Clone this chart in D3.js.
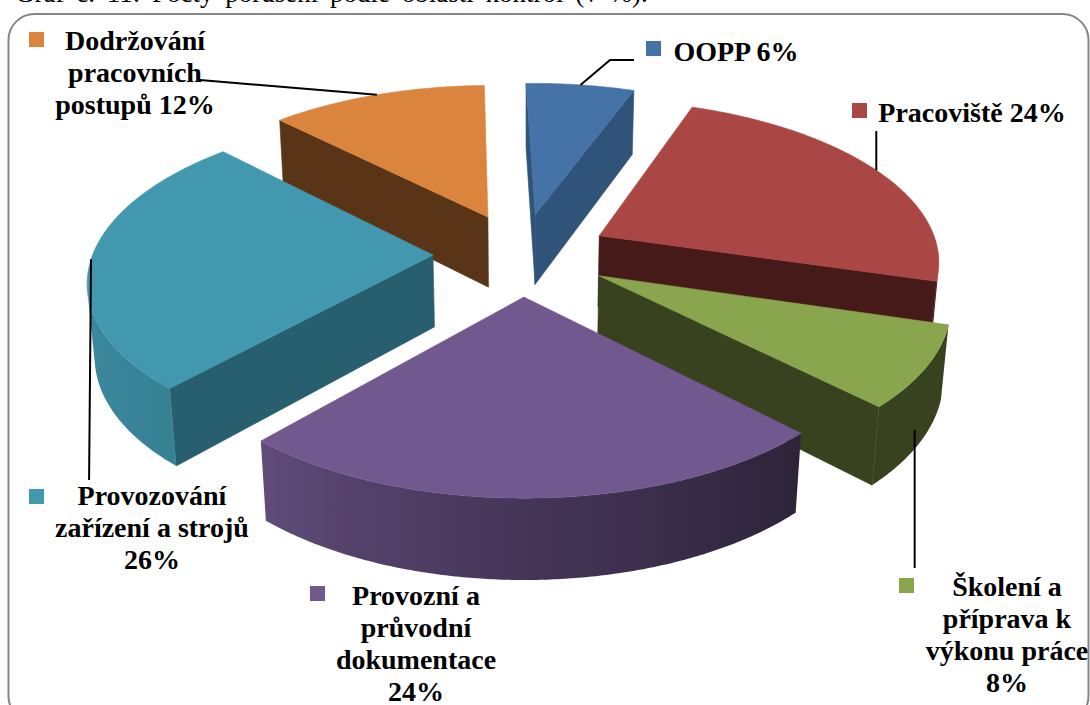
<!DOCTYPE html>
<html><head><meta charset="utf-8">
<script src="https://cdnjs.cloudflare.com/ajax/libs/d3/7.8.5/d3.min.js"></script>
<style>html,body{margin:0;padding:0;background:#fff;overflow:hidden}</style>
</head><body><svg id="c" width="1090" height="705"></svg>
<script>
const categories = ["OOPP","Pracoviště","Školení a příprava k výkonu práce","Provozní a průvodní dokumentace","Provozování zařízení a strojů","Dodržování pracovních postupů"];
const values = [6,24,8,24,26,12];
const labelLines = [["OOPP 6%"],["Pracoviště 24%"],["Školení a","příprava k","výkonu práce","8%"],["Provozní a","průvodní","dokumentace","24%"],["Provozování","zařízení a strojů","26%"],["Dodržování","pracovních","postupů 12%"]];
const colors = ["#4572A7","#AA4643","#89A54E","#71588F","#4198AF","#DB843D"];
const wallColors = ["#2F5379","#461A19","#38421F","#2E2439","#285F6E","#5A3416"];
const title = "Graf č. 11: Počty porušení podle oblastí kontrol (v %).";

const svg = d3.select("#c");
const defs = svg.append("defs");
const serif = "'Liberation Serif','Times New Roman',serif";

// frame
svg.append("rect").attr("x",8.5).attr("y",14).attr("width",1080).attr("height",708).attr("rx",26)
  .attr("fill","#fff").attr("stroke","#868686").attr("stroke-width",2);
svg.append("text").attr("x",15).attr("y",1.5).attr("font-family",serif).attr("font-size",27)
  .attr("word-spacing",5).attr("fill","#000").text(title);

// camera
const deg = Math.PI/180;
const cam = {cx:521.5, cy:254, pitch:27.3*deg, D:6.35, f:2210, fx:2160, R:1.0, h:0.236, explode:0.26, rot:-1.5*deg};
const s = Math.sin(cam.pitch), c = Math.cos(cam.pitch);
function project(theta, r, z, mid){
  const X = r*Math.sin(theta+cam.rot) + cam.explode*Math.sin(mid+cam.rot);
  const Y = r*Math.cos(theta+cam.rot) + cam.explode*Math.cos(mid+cam.rot);
  const xc = X, yc = Y*s + z*c, zc = cam.D + Y*c - z*s;
  return [cam.cx + cam.fx*xc/zc, cam.cy - cam.f*yc/zc];
}
const pie = d3.pie().sort(null).value(d=>d)(values);
const shade = d3.scaleLinear().domain([90,137,180,223,270,316,360]).range([.42,.4,.6,.85,.93,1,1]).clamp(true);
const line = d3.line();
function area(p){let a=0;for(let i=0;i<p.length;i++){const q=p[(i+1)%p.length];a+=p[i][0]*q[1]-q[0]*p[i][1];}return a/2;}
const order = [5,0,1,4,2,3];
const layer = svg.append("g");
function poly(g,p,fill,stroke){ g.append("path").attr("d",line(p)+"Z").attr("fill",fill).attr("stroke",stroke||fill).attr("stroke-width",.6); }

order.forEach(i=>{
  const d = pie[i], mid=(d.startAngle+d.endAngle)/2, g = layer.append("g").attr("class","slice").attr("data-name",categories[i]);
  const a0=d.startAngle,a1=d.endAngle,n=Math.ceil((a1-a0)/deg*2);
  const steps=d3.range(0,n+1).map(k=>a0+(a1-a0)*k/n);
  const base=d3.color(colors[i]);
  // radial walls
  [a0,a1].forEach(a=>{
    const p=[project(a,0,0,mid),project(a,cam.R,0,mid),project(a,cam.R,-cam.h,mid),project(a,0,-cam.h,mid)];
    const sign=(a===a0)?-1:1;
    if(area(p)*sign>0) poly(g,p,wallColors[i]);
  });
  // outer wall: keep only the camera-facing part
  const vis=[];
  for(let k=0;k<steps.length-1;k++){
    const t0=steps[k],t1=steps[k+1];
    const p=[project(t0,cam.R,0,mid),project(t1,cam.R,0,mid),project(t1,cam.R,-cam.h,mid),project(t0,cam.R,-cam.h,mid)];
    if(area(p)<0){ if(!vis.length) vis.push(t0); vis.push(t1); }
  }
  if(vis.length>1){
    const topE=vis.map(t=>project(t,cam.R,0,mid)), botE=vis.map(t=>project(t,cam.R,-cam.h,mid)).reverse();
    const id="w"+i, x1=topE[0][0], x2=topE[topE.length-1][0];
    const gr=defs.append("linearGradient").attr("id",id).attr("gradientUnits","userSpaceOnUse")
      .attr("x1",x1).attr("y1",0).attr("x2",x2).attr("y2",0);
    vis.forEach((t,k)=>{ if(k%4) return;
      const m=shade(t/deg), col=i===2?d3.rgb(wallColors[i]):d3.rgb(base.r*m,base.g*m,base.b*m);
      gr.append("stop").attr("offset",(topE[k][0]-x1)/(x2-x1)).attr("stop-color",col.formatHex());
    });
    poly(g,[...topE,...botE],`url(#${id})`,"none");
  }
  // top
  const top=[project(a0,0,0,mid),...steps.map(t=>project(t,cam.R,0,mid))];
  poly(g,top,colors[i]);
});

// leaders: start on the slice's rim (frac = where along the slice), end at the label
const leaders = [
  {i:0,frac:.5,z:0,to:()=>[[610,60],[634,60]]},
  {i:1,frac:.5,z:0,to:p=>[[p[0],131]]},
  {i:2,frac:.58,z:-cam.h*0.72,to:p=>[[p[0],568]]},
  {i:4,frac:.5,z:0,to:p=>[[p[0]-2,480]]},
  {i:5,frac:.5,z:0,to:()=>[[200,80]]}
];
leaders.forEach(l=>{
  const d=pie[l.i],mid=(d.startAngle+d.endAngle)/2,a=d.startAngle+(d.endAngle-d.startAngle)*l.frac;
  const p0=project(a,cam.R,l.z,mid);
  svg.append("path").attr("d",line([p0,...l.to(p0)])).attr("fill","none").attr("stroke","#000").attr("stroke-width",2);
});

// labels: [swatch x, swatch y, text centre x, first baseline y]
const labelPos = [[646,41,736,61],[852,103,972,122],[899,578,1007,596],[310,586,416,605],[29,489,152,505],[29,32,135,50]];
labelLines.forEach((ls,i)=>{
  const p=labelPos[i];
  svg.append("rect").attr("x",p[0]).attr("y",p[1]).attr("width",15).attr("height",15).attr("fill",colors[i]);
  const t=svg.append("text").attr("font-family",serif).attr("font-weight","bold").attr("font-size",28).attr("text-anchor","middle").attr("fill","#000");
  ls.forEach((s,k)=>t.append("tspan").attr("x",p[2]).attr("y",p[3]+k*32).text(s));
});
</script></body></html>
